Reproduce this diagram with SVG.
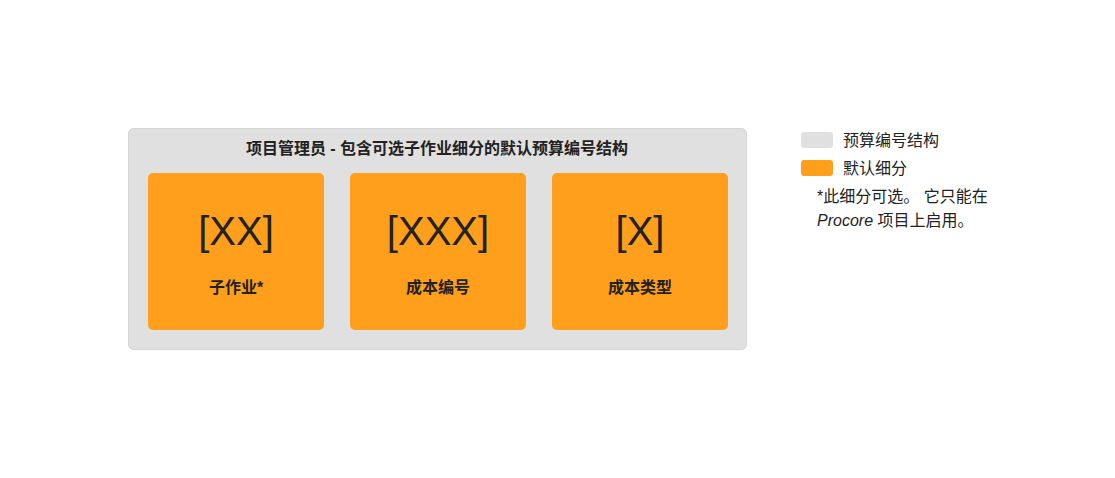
<svg xmlns="http://www.w3.org/2000/svg" width="1115" height="478" viewBox="0 0 1115 478">
<style>
.t{font-family:"Liberation Sans","Noto Sans CJK SC",sans-serif;fill:#222;}
.title{font-size:16px;font-weight:bold;}
.code{font-size:40px;}
.lab{font-size:16px;font-weight:bold;}
.leg{font-size:16px;fill:#222;}
.box{fill:#ff9f1c;}
</style>
<rect width="1115" height="478" fill="#ffffff"/>
<g id="container">
<rect x="128.5" y="128.5" width="618" height="221" rx="5" fill="#e0e0e0" stroke="#d4d4d4" stroke-width="1"/>
<text class="t title" x="437" y="154" text-anchor="middle">项目管理员 - 包含可选子作业细分的默认预算编号结构</text>
</g>
<g id="node-subjob">
<rect class="box" x="148" y="173" width="176" height="157" rx="5"/>
<text class="t code" x="236" y="245" text-anchor="middle">[XX]</text>
<text class="t lab" x="236" y="293" text-anchor="middle">子作业*</text>
</g>
<g id="node-costcode">
<rect class="box" x="350" y="173" width="176" height="157" rx="5"/>
<text class="t code" x="438" y="245" text-anchor="middle">[XXX]</text>
<text class="t lab" x="438" y="293" text-anchor="middle">成本编号</text>
</g>
<g id="node-costtype">
<rect class="box" x="552" y="173" width="176" height="157" rx="5"/>
<text class="t code" x="640" y="245" text-anchor="middle">[X]</text>
<text class="t lab" x="640" y="293" text-anchor="middle">成本类型</text>
</g>
<g id="connectors"></g>
<g id="legend">
<rect x="801" y="132" width="32" height="16" rx="3" fill="#e0e0e0"/>
<text class="t leg" x="843" y="146">预算编号结构</text>
<rect x="801" y="160" width="32" height="16" rx="3" fill="#ff9f1c"/>
<text class="t leg" x="843" y="174">默认细分</text>
<text class="t leg" x="817" y="202">*此细分可选。 它只能在</text>
<text class="t leg" x="817" y="226"><tspan font-style="italic">Procore</tspan> 项目上启用。</text>
</g>
</svg>
